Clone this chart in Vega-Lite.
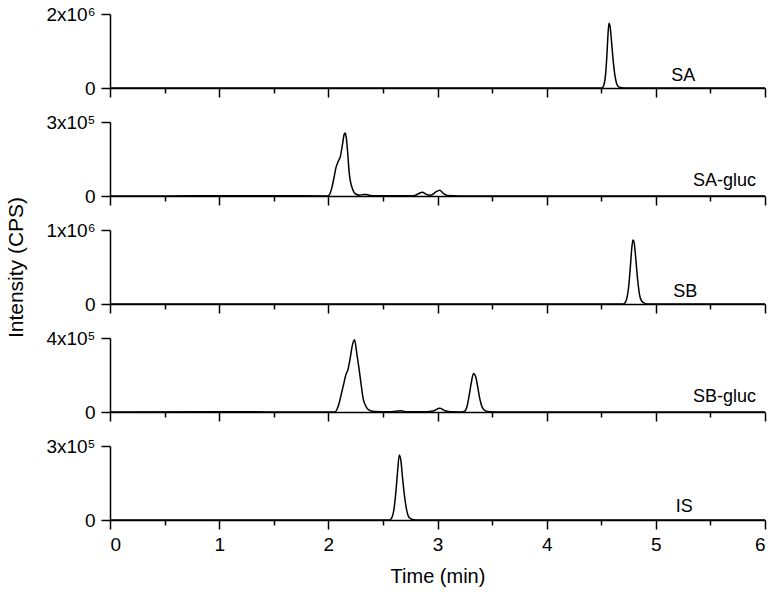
{
  "$schema": "https://vega.github.io/schema/vega-lite/v6.json",
  "background": "white",
  "padding": {"left": 5, "top": 5, "right": 0, "bottom": 5},
  "spacing": 34,
  "bounds": "flush",
  "config": {
    "view": {"stroke": null},
    "font": "Liberation Sans",
    "axis": {
      "grid": false,
      "domainColor": "black",
      "domainWidth": 1.5,
      "tickColor": "black",
      "tickWidth": 1.5,
      "labelColor": "black",
      "labelFont": "Liberation Sans",
      "labelFontSize": 19,
      "titleFont": "Liberation Sans",
      "titleFontSize": 20,
      "titleFontWeight": "normal",
      "titleColor": "black",
      "labelPadding": 6
    }
  },
  "datasets": {
    "chrom": [
      {"series": "SA", "time": 0, "intensity": 0},
      {"series": "SA", "time": 4.49, "intensity": 0},
      {"series": "SA", "time": 4.51, "intensity": 10000},
      {"series": "SA", "time": 4.52, "intensity": 50000},
      {"series": "SA", "time": 4.53, "intensity": 150000},
      {"series": "SA", "time": 4.54, "intensity": 380000},
      {"series": "SA", "time": 4.55, "intensity": 800000},
      {"series": "SA", "time": 4.56, "intensity": 1350000},
      {"series": "SA", "time": 4.57, "intensity": 1750000},
      {"series": "SA", "time": 4.58, "intensity": 1680000},
      {"series": "SA", "time": 4.59, "intensity": 1400000},
      {"series": "SA", "time": 4.6, "intensity": 1050000},
      {"series": "SA", "time": 4.61, "intensity": 720000},
      {"series": "SA", "time": 4.62, "intensity": 450000},
      {"series": "SA", "time": 4.63, "intensity": 260000},
      {"series": "SA", "time": 4.64, "intensity": 130000},
      {"series": "SA", "time": 4.66, "intensity": 30000},
      {"series": "SA", "time": 4.69, "intensity": 5000},
      {"series": "SA", "time": 4.72, "intensity": 0},
      {"series": "SA", "time": 6, "intensity": 0},

      {"series": "SA-gluc", "time": 0, "intensity": 0},
      {"series": "SA-gluc", "time": 0.5, "intensity": 500},
      {"series": "SA-gluc", "time": 1.0, "intensity": 800},
      {"series": "SA-gluc", "time": 1.5, "intensity": 600},
      {"series": "SA-gluc", "time": 1.99, "intensity": 500},
      {"series": "SA-gluc", "time": 2.01, "intensity": 5000},
      {"series": "SA-gluc", "time": 2.03, "intensity": 30000},
      {"series": "SA-gluc", "time": 2.05, "intensity": 70000},
      {"series": "SA-gluc", "time": 2.07, "intensity": 115000},
      {"series": "SA-gluc", "time": 2.09, "intensity": 140000},
      {"series": "SA-gluc", "time": 2.11, "intensity": 160000},
      {"series": "SA-gluc", "time": 2.13, "intensity": 210000},
      {"series": "SA-gluc", "time": 2.145, "intensity": 250000},
      {"series": "SA-gluc", "time": 2.155, "intensity": 255000},
      {"series": "SA-gluc", "time": 2.165, "intensity": 235000},
      {"series": "SA-gluc", "time": 2.18, "intensity": 160000},
      {"series": "SA-gluc", "time": 2.19, "intensity": 100000},
      {"series": "SA-gluc", "time": 2.2, "intensity": 65000},
      {"series": "SA-gluc", "time": 2.22, "intensity": 30000},
      {"series": "SA-gluc", "time": 2.25, "intensity": 8000},
      {"series": "SA-gluc", "time": 2.29, "intensity": 3000},
      {"series": "SA-gluc", "time": 2.32, "intensity": 6000},
      {"series": "SA-gluc", "time": 2.35, "intensity": 6000},
      {"series": "SA-gluc", "time": 2.38, "intensity": 2000},
      {"series": "SA-gluc", "time": 2.45, "intensity": 1000},
      {"series": "SA-gluc", "time": 2.78, "intensity": 1000},
      {"series": "SA-gluc", "time": 2.83, "intensity": 10000},
      {"series": "SA-gluc", "time": 2.86, "intensity": 15000},
      {"series": "SA-gluc", "time": 2.9, "intensity": 6000},
      {"series": "SA-gluc", "time": 2.94, "intensity": 3000},
      {"series": "SA-gluc", "time": 2.98, "intensity": 15000},
      {"series": "SA-gluc", "time": 3.02, "intensity": 23000},
      {"series": "SA-gluc", "time": 3.05, "intensity": 12000},
      {"series": "SA-gluc", "time": 3.09, "intensity": 2000},
      {"series": "SA-gluc", "time": 3.2, "intensity": 500},
      {"series": "SA-gluc", "time": 6, "intensity": 0},

      {"series": "SB", "time": 0, "intensity": 0},
      {"series": "SB", "time": 4.7, "intensity": 0},
      {"series": "SB", "time": 4.72, "intensity": 20000},
      {"series": "SB", "time": 4.74, "intensity": 120000},
      {"series": "SB", "time": 4.75, "intensity": 220000},
      {"series": "SB", "time": 4.76, "intensity": 380000},
      {"series": "SB", "time": 4.77, "intensity": 570000},
      {"series": "SB", "time": 4.78, "intensity": 760000},
      {"series": "SB", "time": 4.79, "intensity": 865000},
      {"series": "SB", "time": 4.8, "intensity": 840000},
      {"series": "SB", "time": 4.81, "intensity": 720000},
      {"series": "SB", "time": 4.82, "intensity": 550000},
      {"series": "SB", "time": 4.83, "intensity": 380000},
      {"series": "SB", "time": 4.84, "intensity": 240000},
      {"series": "SB", "time": 4.85, "intensity": 130000},
      {"series": "SB", "time": 4.87, "intensity": 40000},
      {"series": "SB", "time": 4.9, "intensity": 8000},
      {"series": "SB", "time": 4.93, "intensity": 0},
      {"series": "SB", "time": 6, "intensity": 0},

      {"series": "SB-gluc", "time": 0, "intensity": 0},
      {"series": "SB-gluc", "time": 1.0, "intensity": 800},
      {"series": "SB-gluc", "time": 2.06, "intensity": 500},
      {"series": "SB-gluc", "time": 2.08, "intensity": 15000},
      {"series": "SB-gluc", "time": 2.1, "intensity": 50000},
      {"series": "SB-gluc", "time": 2.12, "intensity": 100000},
      {"series": "SB-gluc", "time": 2.14, "intensity": 150000},
      {"series": "SB-gluc", "time": 2.16, "intensity": 200000},
      {"series": "SB-gluc", "time": 2.18, "intensity": 230000},
      {"series": "SB-gluc", "time": 2.2, "intensity": 290000},
      {"series": "SB-gluc", "time": 2.22, "intensity": 360000},
      {"series": "SB-gluc", "time": 2.24, "intensity": 390000},
      {"series": "SB-gluc", "time": 2.26, "intensity": 320000},
      {"series": "SB-gluc", "time": 2.28, "intensity": 240000},
      {"series": "SB-gluc", "time": 2.3, "intensity": 150000},
      {"series": "SB-gluc", "time": 2.32, "intensity": 70000},
      {"series": "SB-gluc", "time": 2.34, "intensity": 35000},
      {"series": "SB-gluc", "time": 2.37, "intensity": 12000},
      {"series": "SB-gluc", "time": 2.42, "intensity": 3000},
      {"series": "SB-gluc", "time": 2.55, "intensity": 1000},
      {"series": "SB-gluc", "time": 2.62, "intensity": 4000},
      {"series": "SB-gluc", "time": 2.66, "intensity": 7000},
      {"series": "SB-gluc", "time": 2.71, "intensity": 2000},
      {"series": "SB-gluc", "time": 2.85, "intensity": 1000},
      {"series": "SB-gluc", "time": 2.96, "intensity": 6000},
      {"series": "SB-gluc", "time": 3.02, "intensity": 20000},
      {"series": "SB-gluc", "time": 3.07, "intensity": 7000},
      {"series": "SB-gluc", "time": 3.12, "intensity": 1000},
      {"series": "SB-gluc", "time": 3.22, "intensity": 500},
      {"series": "SB-gluc", "time": 3.25, "intensity": 5000},
      {"series": "SB-gluc", "time": 3.27, "intensity": 30000},
      {"series": "SB-gluc", "time": 3.29, "intensity": 90000},
      {"series": "SB-gluc", "time": 3.31, "intensity": 160000},
      {"series": "SB-gluc", "time": 3.33, "intensity": 208000},
      {"series": "SB-gluc", "time": 3.35, "intensity": 190000},
      {"series": "SB-gluc", "time": 3.37, "intensity": 130000},
      {"series": "SB-gluc", "time": 3.39, "intensity": 65000},
      {"series": "SB-gluc", "time": 3.41, "intensity": 25000},
      {"series": "SB-gluc", "time": 3.44, "intensity": 6000},
      {"series": "SB-gluc", "time": 3.48, "intensity": 1000},
      {"series": "SB-gluc", "time": 3.6, "intensity": 0},
      {"series": "SB-gluc", "time": 6, "intensity": 0},

      {"series": "IS", "time": 0, "intensity": 0},
      {"series": "IS", "time": 2.56, "intensity": 0},
      {"series": "IS", "time": 2.58, "intensity": 8000},
      {"series": "IS", "time": 2.6, "intensity": 40000},
      {"series": "IS", "time": 2.62, "intensity": 120000},
      {"series": "IS", "time": 2.635, "intensity": 200000},
      {"series": "IS", "time": 2.65, "intensity": 264000},
      {"series": "IS", "time": 2.665, "intensity": 240000},
      {"series": "IS", "time": 2.68, "intensity": 170000},
      {"series": "IS", "time": 2.7, "intensity": 90000},
      {"series": "IS", "time": 2.72, "intensity": 35000},
      {"series": "IS", "time": 2.74, "intensity": 10000},
      {"series": "IS", "time": 2.77, "intensity": 2000},
      {"series": "IS", "time": 2.8, "intensity": 0},
      {"series": "IS", "time": 6, "intensity": 0}
    ]
  },
  "vconcat": [
    {
      "width": 655, "height": 74,
      "layer": [
        {
          "data": {"name": "chrom"},
          "transform": [{"filter": "datum.series == 'SA'"}],
          "mark": {"type": "line", "color": "black", "strokeWidth": 1.5, "interpolate": "monotone"},
          "encoding": {
            "x": {"field": "time", "type": "quantitative", "scale": {"domain": [0, 6], "nice": false},
                  "axis": {"values": [0,0.5,1,1.5,2,2.5,3,3.5,4,4.5,5,5.5,6], "labels": false, "title": null,
                           "tickSize": {"condition": {"test": "datum.value % 1 != 0", "value": 5}, "value": 9}}},
            "y": {"field": "intensity", "type": "quantitative", "scale": {"domain": [0, 2000000], "nice": false},
                  "axis": {"values": [0, 1000000, 2000000], "title": null,
                           "labelExpr": "datum.value == 0 ? '0' : datum.value == 2000000 ? '2x10⁶' : ''",
                           "tickSize": {"condition": {"test": "datum.value == 1000000", "value": 5}, "value": 9}}}
          }
        },
        {
          "data": {"values": [{"label": "SA"}]},
          "mark": {"type": "text", "fontSize": 18, "font": "Liberation Sans", "color": "black", "align": "center", "baseline": "alphabetic"},
          "encoding": {"x": {"datum": 5.25}, "y": {"datum": 200000}, "text": {"field": "label"}}
        }
      ]
    },
    {
      "width": 655, "height": 74,
      "layer": [
        {
          "data": {"name": "chrom"},
          "transform": [{"filter": "datum.series == 'SA-gluc'"}],
          "mark": {"type": "line", "color": "black", "strokeWidth": 1.5, "interpolate": "monotone"},
          "encoding": {
            "x": {"field": "time", "type": "quantitative", "scale": {"domain": [0, 6], "nice": false},
                  "axis": {"values": [0,0.5,1,1.5,2,2.5,3,3.5,4,4.5,5,5.5,6], "labels": false, "title": null,
                           "tickSize": {"condition": {"test": "datum.value % 1 != 0", "value": 5}, "value": 9}}},
            "y": {"field": "intensity", "type": "quantitative", "scale": {"domain": [0, 300000], "nice": false},
                  "axis": {"values": [0, 150000, 300000], "title": null,
                           "labelExpr": "datum.value == 0 ? '0' : datum.value == 300000 ? '3x10⁵' : ''",
                           "tickSize": {"condition": {"test": "datum.value == 150000", "value": 5}, "value": 9}}}
          }
        },
        {
          "data": {"values": [{"label": "SA-gluc"}]},
          "mark": {"type": "text", "fontSize": 18, "font": "Liberation Sans", "color": "black", "align": "center", "baseline": "alphabetic"},
          "encoding": {"x": {"datum": 5.63}, "y": {"datum": 42000}, "text": {"field": "label"}}
        }
      ]
    },
    {
      "width": 655, "height": 74,
      "layer": [
        {
          "data": {"name": "chrom"},
          "transform": [{"filter": "datum.series == 'SB'"}],
          "mark": {"type": "line", "color": "black", "strokeWidth": 1.5, "interpolate": "monotone"},
          "encoding": {
            "x": {"field": "time", "type": "quantitative", "scale": {"domain": [0, 6], "nice": false},
                  "axis": {"values": [0,0.5,1,1.5,2,2.5,3,3.5,4,4.5,5,5.5,6], "labels": false, "title": null,
                           "tickSize": {"condition": {"test": "datum.value % 1 != 0", "value": 5}, "value": 9}}},
            "y": {"field": "intensity", "type": "quantitative", "scale": {"domain": [0, 1000000], "nice": false},
                  "axis": {"values": [0, 500000, 1000000], "title": "Intensity (CPS)", "titlePadding": 19, "titleFontSize": 21,
                           "labelExpr": "datum.value == 0 ? '0' : datum.value == 1000000 ? '1x10⁶' : ''",
                           "tickSize": {"condition": {"test": "datum.value == 500000", "value": 5}, "value": 9}}}
          }
        },
        {
          "data": {"values": [{"label": "SB"}]},
          "mark": {"type": "text", "fontSize": 18, "font": "Liberation Sans", "color": "black", "align": "center", "baseline": "alphabetic"},
          "encoding": {"x": {"datum": 5.27}, "y": {"datum": 100000}, "text": {"field": "label"}}
        }
      ]
    },
    {
      "width": 655, "height": 74,
      "layer": [
        {
          "data": {"name": "chrom"},
          "transform": [{"filter": "datum.series == 'SB-gluc'"}],
          "mark": {"type": "line", "color": "black", "strokeWidth": 1.5, "interpolate": "monotone"},
          "encoding": {
            "x": {"field": "time", "type": "quantitative", "scale": {"domain": [0, 6], "nice": false},
                  "axis": {"values": [0,0.5,1,1.5,2,2.5,3,3.5,4,4.5,5,5.5,6], "labels": false, "title": null,
                           "tickSize": {"condition": {"test": "datum.value % 1 != 0", "value": 5}, "value": 9}}},
            "y": {"field": "intensity", "type": "quantitative", "scale": {"domain": [0, 400000], "nice": false},
                  "axis": {"values": [0, 200000, 400000], "title": null,
                           "labelExpr": "datum.value == 0 ? '0' : datum.value == 400000 ? '4x10⁵' : ''",
                           "tickSize": {"condition": {"test": "datum.value == 200000", "value": 5}, "value": 9}}}
          }
        },
        {
          "data": {"values": [{"label": "SB-gluc"}]},
          "mark": {"type": "text", "fontSize": 18, "font": "Liberation Sans", "color": "black", "align": "center", "baseline": "alphabetic"},
          "encoding": {"x": {"datum": 5.63}, "y": {"datum": 56000}, "text": {"field": "label"}}
        }
      ]
    },
    {
      "width": 655, "height": 74,
      "layer": [
        {
          "data": {"name": "chrom"},
          "transform": [{"filter": "datum.series == 'IS'"}],
          "mark": {"type": "line", "color": "black", "strokeWidth": 1.5, "interpolate": "monotone"},
          "encoding": {
            "x": {"field": "time", "type": "quantitative", "scale": {"domain": [0, 6], "nice": false},
                  "axis": {"values": [0,0.5,1,1.5,2,2.5,3,3.5,4,4.5,5,5.5,6], "title": "Time (min)", "titlePadding": 12,
                           "labelExpr": "datum.value % 1 == 0 ? format(datum.value, 'd') : ''",
                           "tickSize": {"condition": {"test": "datum.value % 1 != 0", "value": 5}, "value": 9}}},
            "y": {"field": "intensity", "type": "quantitative", "scale": {"domain": [0, 300000], "nice": false},
                  "axis": {"values": [0, 150000, 300000], "title": null,
                           "labelExpr": "datum.value == 0 ? '0' : datum.value == 300000 ? '3x10⁵' : ''",
                           "tickSize": {"condition": {"test": "datum.value == 150000", "value": 5}, "value": 9}}}
          }
        },
        {
          "data": {"values": [{"label": "IS"}]},
          "mark": {"type": "text", "fontSize": 18, "font": "Liberation Sans", "color": "black", "align": "center", "baseline": "alphabetic"},
          "encoding": {"x": {"datum": 5.26}, "y": {"datum": 32000}, "text": {"field": "label"}}
        }
      ]
    }
  ]
}
